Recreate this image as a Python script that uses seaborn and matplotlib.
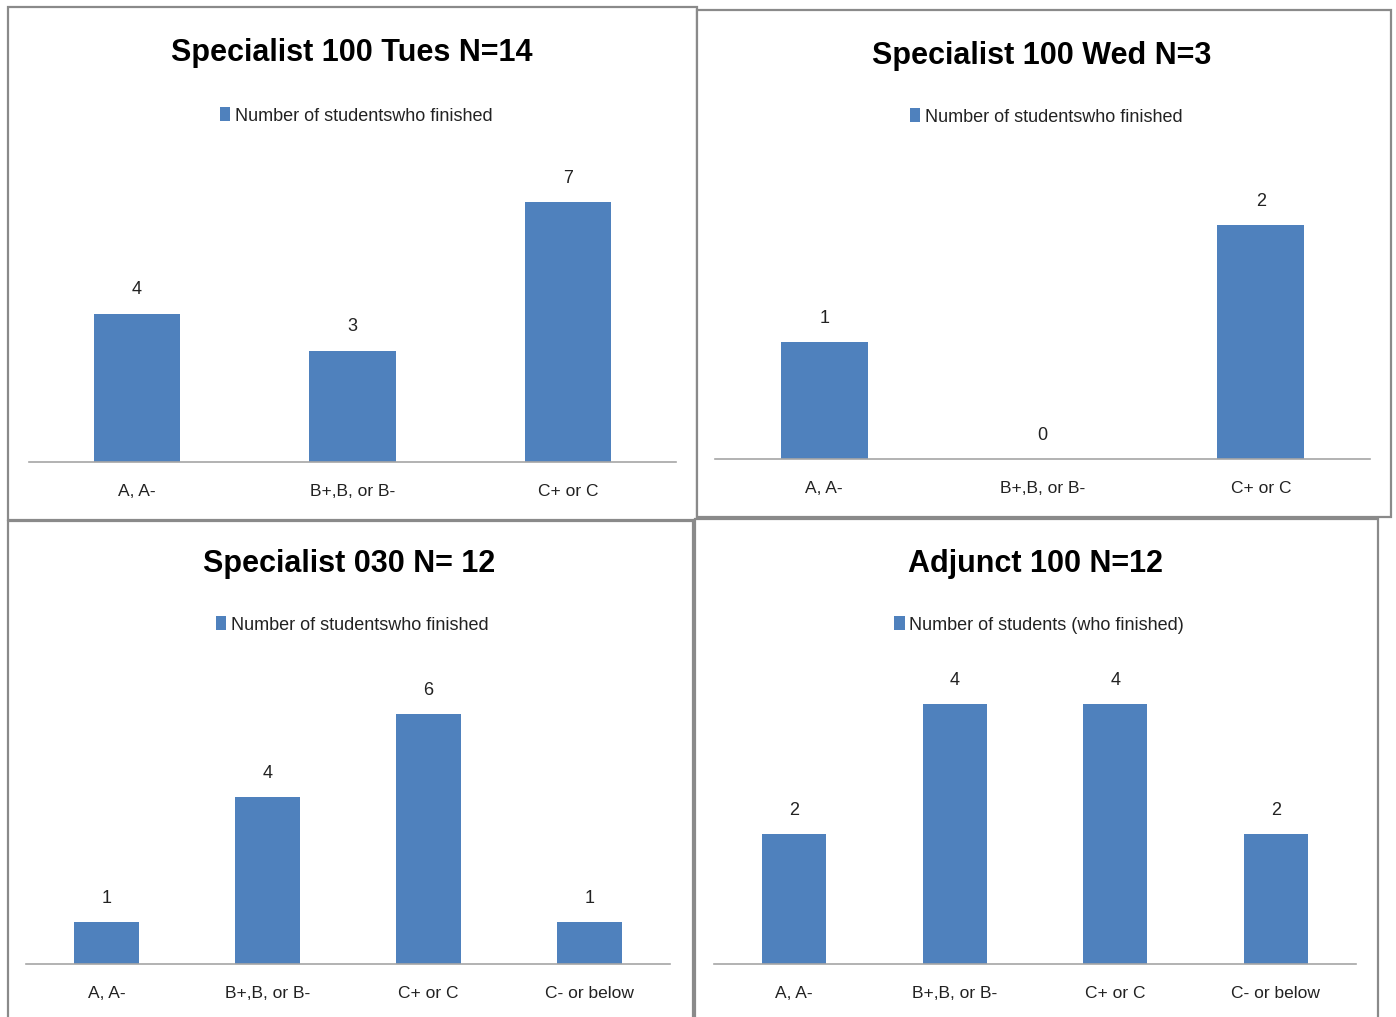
import matplotlib
matplotlib.use("Agg")
import matplotlib.pyplot as plt
from matplotlib.patches import Rectangle, Patch
import seaborn as sns
import pandas as pd

sns.set_theme(style="white")
plt.rcParams["font.family"] = ["Liberation Sans", "DejaVu Sans"]

# Grade bands
cats3 = ["A, A-", "B+,B, or B-", "C+ or C"]
cats4 = ["A, A-", "B+,B, or B-", "C+ or C", "C- or below"]

# Students who finished, per grade band
tues_counts = [4, 3, 7]
wed_counts = [1, 0, 2]
spec030_counts = [1, 4, 6, 1]
adjunct_counts = [2, 4, 4, 2]

titles = ["Specialist 100 Tues N=14", "Specialist 100 Wed N=3",
          "Specialist 030 N= 12", "Adjunct 100 N=12"]
legend_labels = ["Number of studentswho finished", "Number of studentswho finished",
                 "Number of studentswho finished", "Number of students (who finished)"]

BAR = "#4F81BD"
W, H = 1396, 1017
fig = plt.figure(figsize=(W / 100, H / 100), dpi=100)


def fx(x):
    return x / W


def fy(y):
    return 1 - y / H


# chart frames (pixel boxes: left, top, right, bottom)
frames = [(8, 7, 697, 520), (697, 10, 1391, 517), (8, 521, 693, 1030), (695, 519, 1378, 1030)]
for (l, t, r, b) in frames:
    fig.patches.append(Rectangle((fx(l), fy(b)), fx(r - l), (b - t) / H,
                                 transform=fig.transFigure, facecolor="white",
                                 edgecolor="#8A8A8A", linewidth=1.6, zorder=-10))

# plot areas: left, right, baseline y, y max
panels = [
    (cats3, tues_counts, 29, 676, 462, 8),
    (cats3, wed_counts, 715, 1370, 459, 2.5),
    (cats4, spec030_counts, 26, 670, 964, 7),
    (cats4, adjunct_counts, 714, 1356, 964, 5),
]
px_per_unit = [37.1, 117.0, 41.7, 65.0]
title_pos = [(352, 53), (1042, 56), (349, 564), (1035, 564)]
legend_pos = [(356, 116), (1046, 117), (352, 625), (1039, 625)]

for i, (cats, vals, x0, x1, base, ymax) in enumerate(panels):
    top = base - ymax * px_per_unit[i]
    ax = fig.add_axes([fx(x0), fy(base), fx(x1 - x0), (base - top) / H], zorder=2)
    df = pd.DataFrame({"grade": cats, "count": vals})
    sns.barplot(data=df, x="grade", y="count", color=BAR, width=0.4,
                saturation=1, linewidth=0, ax=ax)
    ax.set_xlim(-0.5, len(cats) - 0.5)
    ax.set_ylim(0, ymax)
    ax.patch.set_alpha(0)
    for s in ["top", "left", "right"]:
        ax.spines[s].set_visible(False)
    ax.spines["bottom"].set_color("#A6A6A6")
    ax.spines["bottom"].set_linewidth(1.2)
    ax.set_yticks([])
    ax.set_xlabel("")
    ax.set_ylabel("")
    ax.tick_params(axis="x", length=0, pad=16, labelsize=12.5, labelcolor="#222222")
    ax.bar_label(ax.containers[0], labels=[str(v) for v in vals], padding=11,
                 fontsize=13, color="#222222")

    tx, ty = title_pos[i]
    fig.text(fx(tx), fy(ty), titles[i], ha="center", va="center",
             fontsize=22, fontweight="bold", color="black", zorder=3)

    lx, ly = legend_pos[i]
    fig.legend(handles=[Patch(facecolor=BAR, edgecolor="none")],
               labels=[legend_labels[i]], loc="center",
               bbox_to_anchor=(fx(lx), fy(ly)), frameon=False, fontsize=13,
               handlelength=0.6, handleheight=0.8, handletextpad=0.25,
               borderpad=0, labelcolor="#222222")

fig.savefig("out.png", dpi=100)
